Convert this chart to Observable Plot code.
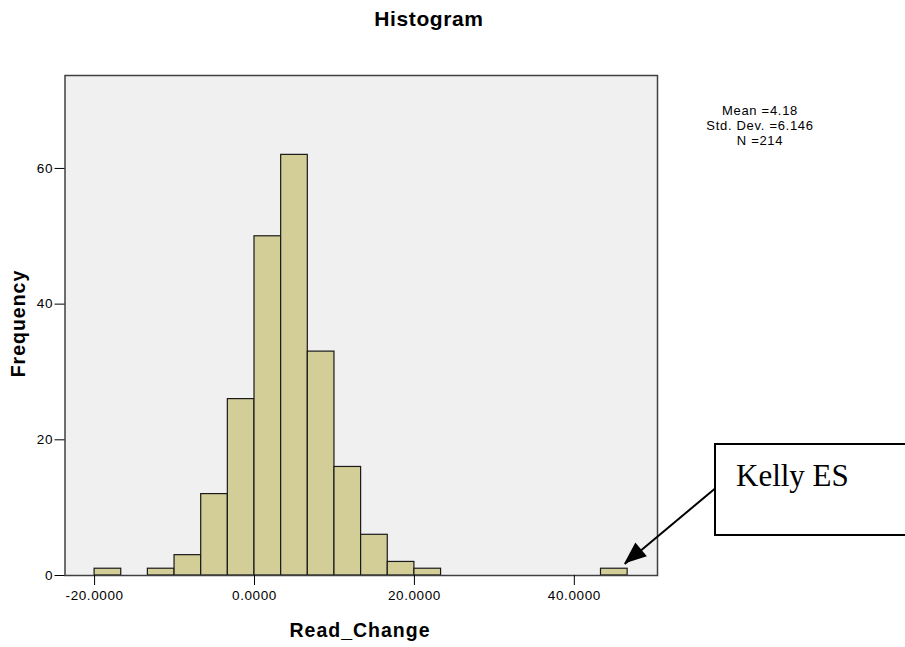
<!DOCTYPE html>
<html>
<head>
<meta charset="utf-8">
<script src="https://cdn.jsdelivr.net/npm/d3@7"></script>
<script src="https://cdn.jsdelivr.net/npm/@observablehq/plot@0.6"></script>
<style>
  html, body { margin: 0; padding: 0; background: #fff; overflow: hidden; }
  #wrap { position: relative; width: 905px; height: 647px; overflow: hidden; font-family: "Liberation Sans", Arial, sans-serif; color: #000; }
  #wrap svg { position: absolute; left: 0; top: 0; }
  .ov { position: absolute; white-space: nowrap; }
  #title { left: 329px; width: 200px; top: 7px; text-align: center; font-weight: bold; font-size: 21px; letter-spacing: 0.6px; }
  #stats { left: 660px; width: 200px; top: 103px; text-align: center; font-size: 13px; line-height: 15px; letter-spacing: 0.7px; }
  #xlabel { left: 260px; width: 200px; top: 619px; text-align: center; font-weight: bold; font-size: 19.5px; letter-spacing: 1px; }
  #ylabel { left: -82px; width: 200px; top: 312px; text-align: center; font-weight: bold; font-size: 19.5px; letter-spacing: 1px; transform: rotate(-90deg); }
  #kbox { left: 714px; top: 443px; width: 220px; height: 93px; border: 2px solid #000; box-sizing: border-box; background: #fff; }
  #ktext { left: 736px; top: 458px; font-family: "Liberation Serif", "Times New Roman", serif; font-size: 31px; }
</style>
</head>
<body>
<div id="wrap">
  <div class="ov" id="title">Histogram</div>
  <div class="ov" id="stats">Mean =4.18<br>Std. Dev. =6.146<br>N =214</div>
  <div class="ov" id="xlabel">Read_Change</div>
  <div class="ov" id="ylabel">Frequency</div>
  <div class="ov" id="kbox"></div>
  <div class="ov" id="ktext">Kelly ES</div>
</div>
<script>
// Histogram bins (Read_Change), width 3.3333
const binLo  = [-20, -13.3333, -10, -6.6667, -3.3333, 0, 3.3333, 6.6667, 10, 13.3333, 16.6667, 20, 43.3333];
const binHi  = [-16.6667, -10, -6.6667, -3.3333, 0, 3.3333, 6.6667, 10, 13.3333, 16.6667, 20, 23.3333, 46.6667];
const counts = [1, 1, 3, 12, 26, 50, 62, 33, 16, 6, 2, 1, 1];

const xTicks = [-20, 0, 20, 40];
const yTicks = [0, 20, 40, 60];

// Annotation arrow (data coordinates) pointing at the Kelly ES outlier
const arrowFrom = [59.25, 14.45];
const arrowTo   = [46.3, 1.7];

const bins = binLo.map((lo, i) => ({lo, hi: binHi[i], n: counts[i]}));

const chart = Plot.plot({
  width: 905,
  height: 647,
  marginLeft: 64.5,
  marginRight: 248,
  marginTop: 75,
  marginBottom: 72,
  style: {fontFamily: "Liberation Sans, Arial, sans-serif", fontSize: "13.5px", letterSpacing: "0.6px", background: "transparent", color: "#000"},
  x: {domain: [-23.7, 50.4], label: null},
  y: {domain: [0, 73.7], label: null},
  marks: [
    Plot.frame({fill: "#f0f0f0", stroke: null}),
    Plot.rect(bins, {x1: "lo", x2: "hi", y1: 0, y2: "n", fill: "#d3ce97", stroke: "#1a1a1a", strokeWidth: 1.2}),
    Plot.frame({stroke: "#404040", strokeWidth: 1.5}),
    Plot.axisX({ticks: xTicks, tickFormat: d => d.toFixed(4), tickSize: 10, tickPadding: 5, label: null}),
    Plot.axisY({ticks: yTicks, tickSize: 10, tickPadding: 2, label: null}),
    Plot.link([{x1: arrowFrom[0], y1: arrowFrom[1], x2: arrowTo[0], y2: arrowTo[1]}], {x1: "x1", y1: "y1", x2: "x2", y2: "y2", stroke: "#000", strokeWidth: 2})
  ]
});

// filled arrowhead placed through the chart's own scales
const sx = chart.scale("x"), sy = chart.scale("y");
const ax0 = sx.apply(arrowFrom[0]), ay0 = sy.apply(arrowFrom[1]);
const ax1 = sx.apply(arrowTo[0]), ay1 = sy.apply(arrowTo[1]);
const len = Math.hypot(ax1 - ax0, ay1 - ay0);
const ux = (ax1 - ax0) / len, uy = (ay1 - ay0) / len;
const hl = 22, hw = 9;
const bx = ax1 - ux * hl, by = ay1 - uy * hl;
d3.select(chart).append("polygon")
  .attr("points", [[ax1, ay1], [bx - uy * hw, by + ux * hw], [bx + uy * hw, by - ux * hw]].map(p => p.join(",")).join(" "))
  .attr("fill", "#000");

document.getElementById("wrap").prepend(chart);
</script>
</body>
</html>
